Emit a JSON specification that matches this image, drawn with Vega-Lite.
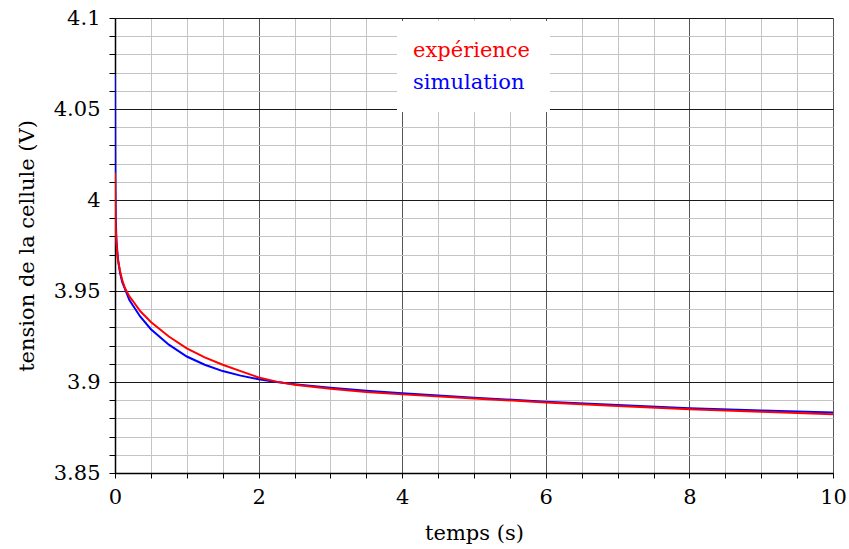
{
  "$schema": "https://vega.github.io/schema/vega-lite/v6.json",
  "autosize": "none",
  "width": 718,
  "height": 455,
  "padding": {"left": 115, "top": 18, "right": 16, "bottom": 76},
  "background": "white",
  "config": {
    "view": {"stroke": null},
    "font": "DejaVu Serif",
    "axis": {"labelFont": "DejaVu Serif", "titleFont": "DejaVu Serif"},
    "legend": {"labelFont": "DejaVu Serif"}
  },
  "data": {
    "values": [
      {"t": 0, "v": 4.069, "serie": "simulation"},
      {"t": 0.003, "v": 4.03, "serie": "simulation"},
      {"t": 0.006, "v": 4.005, "serie": "simulation"},
      {"t": 0.01, "v": 3.99, "serie": "simulation"},
      {"t": 0.02, "v": 3.978, "serie": "simulation"},
      {"t": 0.04, "v": 3.968, "serie": "simulation"},
      {"t": 0.07, "v": 3.96, "serie": "simulation"},
      {"t": 0.1, "v": 3.955, "serie": "simulation"},
      {"t": 0.14, "v": 3.951, "serie": "simulation"},
      {"t": 0.2, "v": 3.945, "serie": "simulation"},
      {"t": 0.25, "v": 3.942, "serie": "simulation"},
      {"t": 0.35, "v": 3.936, "serie": "simulation"},
      {"t": 0.5, "v": 3.929, "serie": "simulation"},
      {"t": 0.75, "v": 3.9205, "serie": "simulation"},
      {"t": 1.0, "v": 3.914, "serie": "simulation"},
      {"t": 1.25, "v": 3.9095, "serie": "simulation"},
      {"t": 1.5, "v": 3.906, "serie": "simulation"},
      {"t": 1.75, "v": 3.9035, "serie": "simulation"},
      {"t": 2.0, "v": 3.9015, "serie": "simulation"},
      {"t": 2.25, "v": 3.9, "serie": "simulation"},
      {"t": 2.5, "v": 3.8988, "serie": "simulation"},
      {"t": 3.0, "v": 3.8968, "serie": "simulation"},
      {"t": 3.5, "v": 3.8952, "serie": "simulation"},
      {"t": 4.0, "v": 3.8938, "serie": "simulation"},
      {"t": 5.0, "v": 3.8914, "serie": "simulation"},
      {"t": 6.0, "v": 3.8892, "serie": "simulation"},
      {"t": 7.0, "v": 3.8873, "serie": "simulation"},
      {"t": 8.0, "v": 3.8856, "serie": "simulation"},
      {"t": 9.0, "v": 3.8843, "serie": "simulation"},
      {"t": 10.0, "v": 3.8832, "serie": "simulation"},
      {"t": 0, "v": 4.015, "serie": "expérience"},
      {"t": 0.005, "v": 3.995, "serie": "expérience"},
      {"t": 0.01, "v": 3.985, "serie": "expérience"},
      {"t": 0.02, "v": 3.976, "serie": "expérience"},
      {"t": 0.04, "v": 3.967, "serie": "expérience"},
      {"t": 0.07, "v": 3.961, "serie": "expérience"},
      {"t": 0.1, "v": 3.956, "serie": "expérience"},
      {"t": 0.14, "v": 3.9515, "serie": "expérience"},
      {"t": 0.2, "v": 3.947, "serie": "expérience"},
      {"t": 0.25, "v": 3.9445, "serie": "expérience"},
      {"t": 0.35, "v": 3.939, "serie": "expérience"},
      {"t": 0.5, "v": 3.933, "serie": "expérience"},
      {"t": 0.75, "v": 3.925, "serie": "expérience"},
      {"t": 1.0, "v": 3.9185, "serie": "expérience"},
      {"t": 1.25, "v": 3.9135, "serie": "expérience"},
      {"t": 1.5, "v": 3.9095, "serie": "expérience"},
      {"t": 1.75, "v": 3.906, "serie": "expérience"},
      {"t": 2.0, "v": 3.9025, "serie": "expérience"},
      {"t": 2.25, "v": 3.9002, "serie": "expérience"},
      {"t": 2.5, "v": 3.8985, "serie": "expérience"},
      {"t": 3.0, "v": 3.8963, "serie": "expérience"},
      {"t": 3.5, "v": 3.8945, "serie": "expérience"},
      {"t": 4.0, "v": 3.8932, "serie": "expérience"},
      {"t": 5.0, "v": 3.891, "serie": "expérience"},
      {"t": 6.0, "v": 3.8888, "serie": "expérience"},
      {"t": 7.0, "v": 3.8868, "serie": "expérience"},
      {"t": 8.0, "v": 3.885, "serie": "expérience"},
      {"t": 9.0, "v": 3.8836, "serie": "expérience"},
      {"t": 10.0, "v": 3.8823, "serie": "expérience"}
    ]
  },
  "mark": {"type": "line", "strokeWidth": 2, "clip": true},
  "encoding": {
    "x": {
      "field": "t",
      "type": "quantitative",
      "scale": {"domain": [0, 10], "nice": false, "zero": false},
      "axis": {
        "title": "temps (s)",
        "titleFont": "DejaVu Serif",
        "titleFontSize": 21,
        "titleFontWeight": "normal",
        "titleColor": "black",
        "titlePadding": 15,
        "values": [0, 0.5, 1, 1.5, 2, 2.5, 3, 3.5, 4, 4.5, 5, 5.5, 6, 6.5, 7, 7.5, 8, 8.5, 9, 9.5, 10],
        "labelExpr": "datum.value % 2 === 0 ? format(datum.value, '~g') : ''",
        "labelFont": "DejaVu Serif",
        "labelFontSize": 21,
        "labelColor": "black",
        "labelPadding": 8,
        "labelFlush": false,
        "labelOverlap": false,
        "tickSize": 5,
        "tickColor": "black",
        "tickWidth": 1,
        "domainColor": "black",
        "domainWidth": 1.5,
        "grid": true,
        "gridWidth": 1,
        "gridColor": {"condition": {"test": "datum.value % 2 === 0", "value": "#555555"}, "value": "#c4c4c4"}
      }
    },
    "y": {
      "field": "v",
      "type": "quantitative",
      "scale": {"domain": [3.85, 4.1], "nice": false, "zero": false},
      "axis": {
        "title": "tension de la cellule (V)",
        "titleFont": "DejaVu Serif",
        "titleFontSize": 21,
        "titleFontWeight": "normal",
        "titleColor": "black",
        "titlePadding": 16,
        "values": [3.85, 3.86, 3.87, 3.88, 3.89, 3.9, 3.91, 3.92, 3.93, 3.94, 3.95, 3.96, 3.97, 3.98, 3.99, 4, 4.01, 4.02, 4.03, 4.04, 4.05, 4.06, 4.07, 4.08, 4.09, 4.1],
        "labelExpr": "abs(datum.value * 20 - round(datum.value * 20)) < 1e-6 ? format(datum.value, '~g') : ''",
        "labelFont": "DejaVu Serif",
        "labelFontSize": 21,
        "labelColor": "black",
        "labelPadding": 9,
        "labelFlush": false,
        "labelOverlap": false,
        "tickSize": 6,
        "tickColor": "black",
        "tickWidth": 1,
        "domainColor": "black",
        "domainWidth": 1.5,
        "grid": true,
        "gridWidth": 1,
        "gridColor": {"condition": {"test": "abs(datum.value * 20 - round(datum.value * 20)) < 1e-6", "value": "#1a1a1a"}, "value": "#c4c4c4"}
      }
    },
    "color": {
      "field": "serie",
      "type": "nominal",
      "scale": {"domain": ["expérience", "simulation"], "range": ["#ff0000", "#0000ff"]},
      "legend": {
        "title": null,
        "orient": "none",
        "legendX": 282,
        "legendY": 3,
        "fillColor": "white",
        "strokeColor": null,
        "padding": 19,
        "rowPadding": 10,
        "symbolSize": 0,
        "symbolOpacity": 0,
        "symbolStrokeWidth": 0,
        "labelOffset": -24,
        "labelFont": "DejaVu Serif",
        "labelFontSize": 21,
        "labelLimit": 400,
        "encode": {"labels": {"update": {"fill": {"scale": "color", "field": "value"}}}}
      }
    },
    "order": {"field": "t", "type": "quantitative"}
  }
}
